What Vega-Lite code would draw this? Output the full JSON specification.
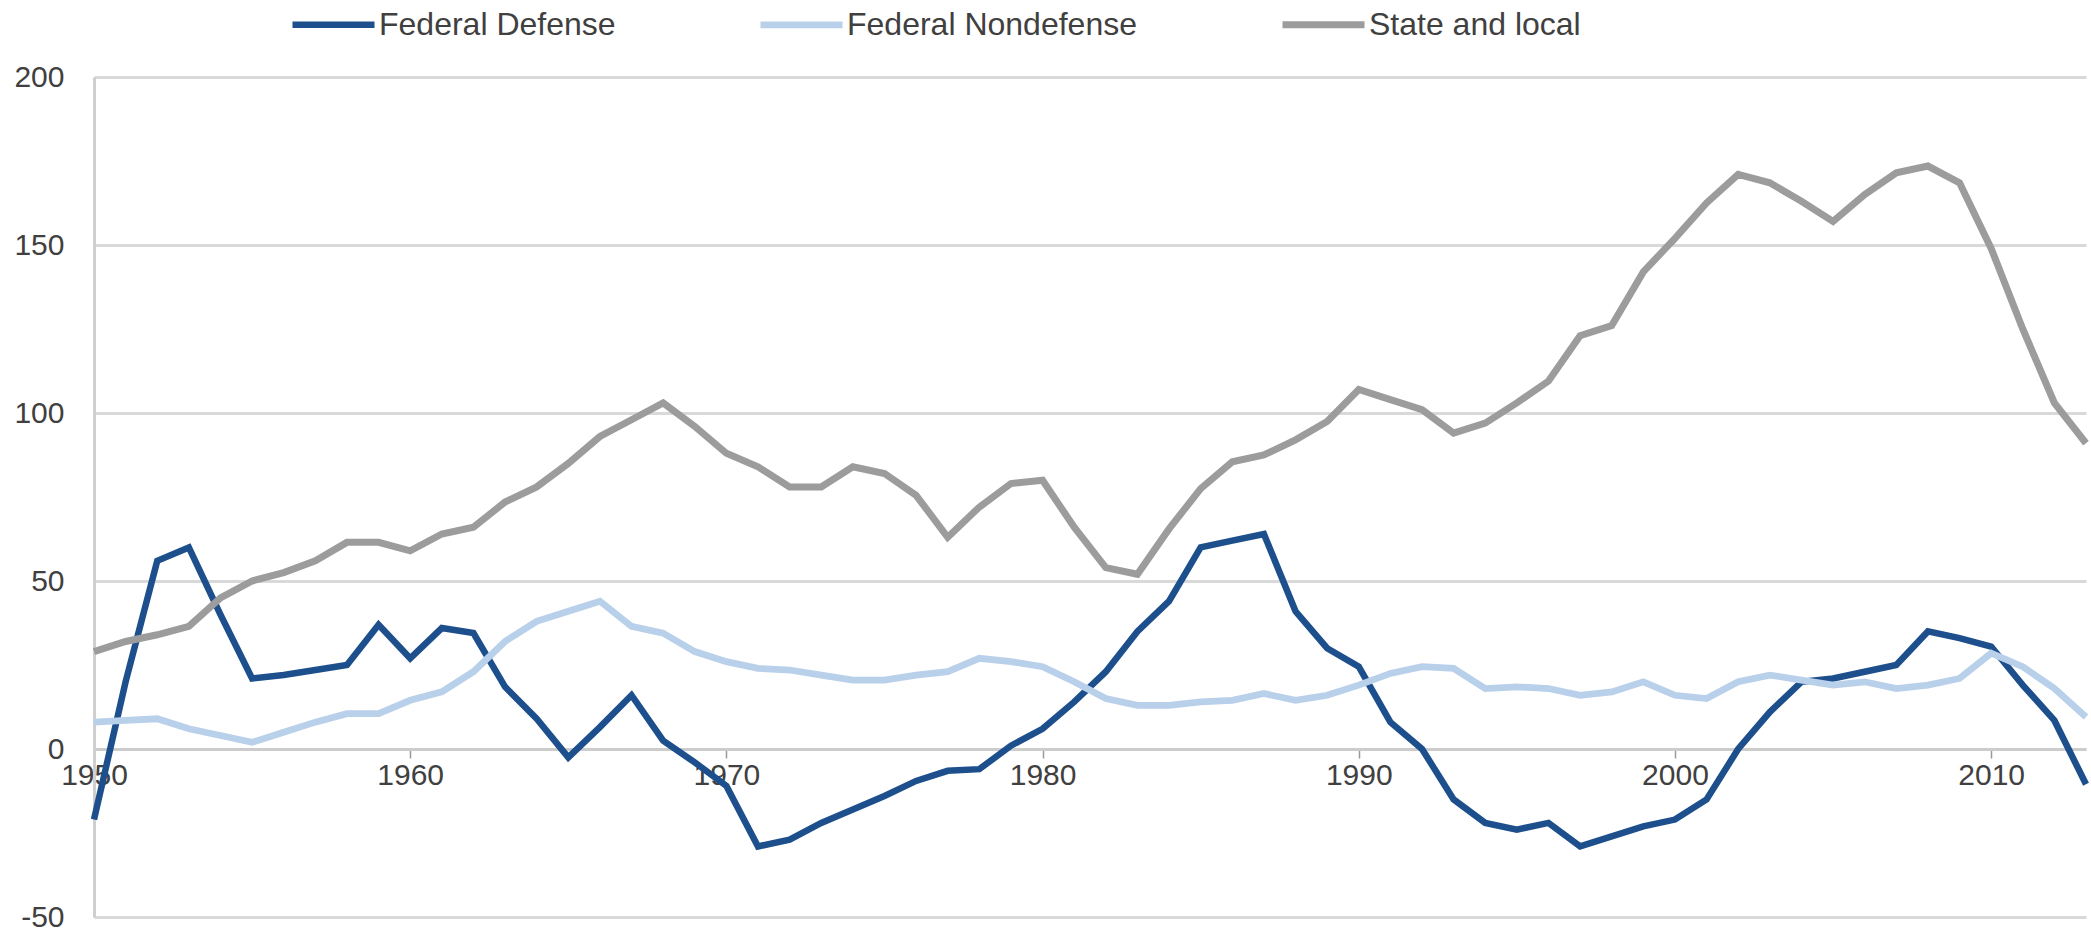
{
  "$schema": "https://vega.github.io/schema/vega-lite/v6.json",
  "autosize": "none",
  "width": 1992,
  "height": 840,
  "padding": {"left": 94, "top": 77, "right": 5, "bottom": 20},
  "background": "white",
  "config": {
    "view": {"stroke": null},
    "font": "Liberation Sans"
  },
  "data": {
    "values": [
      {"year":1950,"Federal Defense":-21,"Federal Nondefense":8,"State and local":29},
      {"year":1951,"Federal Defense":20,"Federal Nondefense":8.5,"State and local":32},
      {"year":1952,"Federal Defense":56,"Federal Nondefense":9,"State and local":34},
      {"year":1953,"Federal Defense":60,"Federal Nondefense":6,"State and local":36.5},
      {"year":1954,"Federal Defense":40,"Federal Nondefense":4,"State and local":45},
      {"year":1955,"Federal Defense":21,"Federal Nondefense":2,"State and local":50},
      {"year":1956,"Federal Defense":22,"Federal Nondefense":5,"State and local":52.5},
      {"year":1957,"Federal Defense":23.5,"Federal Nondefense":8,"State and local":56},
      {"year":1958,"Federal Defense":25,"Federal Nondefense":10.5,"State and local":61.5},
      {"year":1959,"Federal Defense":37,"Federal Nondefense":10.5,"State and local":61.5},
      {"year":1960,"Federal Defense":27,"Federal Nondefense":14.5,"State and local":59},
      {"year":1961,"Federal Defense":36,"Federal Nondefense":17,"State and local":64},
      {"year":1962,"Federal Defense":34.5,"Federal Nondefense":23,"State and local":66},
      {"year":1963,"Federal Defense":18.5,"Federal Nondefense":32,"State and local":73.5},
      {"year":1964,"Federal Defense":9,"Federal Nondefense":38,"State and local":78},
      {"year":1965,"Federal Defense":-2.5,"Federal Nondefense":41,"State and local":85},
      {"year":1966,"Federal Defense":6.5,"Federal Nondefense":44,"State and local":93},
      {"year":1967,"Federal Defense":16,"Federal Nondefense":36.5,"State and local":98},
      {"year":1968,"Federal Defense":2.5,"Federal Nondefense":34.5,"State and local":103},
      {"year":1969,"Federal Defense":-4,"Federal Nondefense":29,"State and local":96},
      {"year":1970,"Federal Defense":-11,"Federal Nondefense":26,"State and local":88},
      {"year":1971,"Federal Defense":-29,"Federal Nondefense":24,"State and local":84},
      {"year":1972,"Federal Defense":-27,"Federal Nondefense":23.5,"State and local":78},
      {"year":1973,"Federal Defense":-22,"Federal Nondefense":22,"State and local":78},
      {"year":1974,"Federal Defense":-18,"Federal Nondefense":20.5,"State and local":84},
      {"year":1975,"Federal Defense":-14,"Federal Nondefense":20.5,"State and local":82},
      {"year":1976,"Federal Defense":-9.5,"Federal Nondefense":22,"State and local":75.5},
      {"year":1977,"Federal Defense":-6.5,"Federal Nondefense":23,"State and local":63},
      {"year":1978,"Federal Defense":-6,"Federal Nondefense":27,"State and local":72},
      {"year":1979,"Federal Defense":1,"Federal Nondefense":26,"State and local":79},
      {"year":1980,"Federal Defense":6,"Federal Nondefense":24.5,"State and local":80},
      {"year":1981,"Federal Defense":14,"Federal Nondefense":20,"State and local":66},
      {"year":1982,"Federal Defense":23,"Federal Nondefense":15,"State and local":54},
      {"year":1983,"Federal Defense":35,"Federal Nondefense":13,"State and local":52},
      {"year":1984,"Federal Defense":44,"Federal Nondefense":13,"State and local":65.5},
      {"year":1985,"Federal Defense":60,"Federal Nondefense":14,"State and local":77.5},
      {"year":1986,"Federal Defense":62,"Federal Nondefense":14.5,"State and local":85.5},
      {"year":1987,"Federal Defense":64,"Federal Nondefense":16.5,"State and local":87.5},
      {"year":1988,"Federal Defense":41,"Federal Nondefense":14.5,"State and local":92},
      {"year":1989,"Federal Defense":30,"Federal Nondefense":16,"State and local":97.5},
      {"year":1990,"Federal Defense":24.5,"Federal Nondefense":19,"State and local":107},
      {"year":1991,"Federal Defense":8,"Federal Nondefense":22.5,"State and local":104},
      {"year":1992,"Federal Defense":0,"Federal Nondefense":24.5,"State and local":101},
      {"year":1993,"Federal Defense":-15,"Federal Nondefense":24,"State and local":94},
      {"year":1994,"Federal Defense":-22,"Federal Nondefense":18,"State and local":97},
      {"year":1995,"Federal Defense":-24,"Federal Nondefense":18.5,"State and local":103},
      {"year":1996,"Federal Defense":-22,"Federal Nondefense":18,"State and local":109.5},
      {"year":1997,"Federal Defense":-29,"Federal Nondefense":16,"State and local":123},
      {"year":1998,"Federal Defense":-26,"Federal Nondefense":17,"State and local":126},
      {"year":1999,"Federal Defense":-23,"Federal Nondefense":20,"State and local":142},
      {"year":2000,"Federal Defense":-21,"Federal Nondefense":16,"State and local":152},
      {"year":2001,"Federal Defense":-15,"Federal Nondefense":15,"State and local":162.5},
      {"year":2002,"Federal Defense":0,"Federal Nondefense":20,"State and local":171},
      {"year":2003,"Federal Defense":11,"Federal Nondefense":22,"State and local":168.5},
      {"year":2004,"Federal Defense":20,"Federal Nondefense":20.5,"State and local":163},
      {"year":2005,"Federal Defense":21,"Federal Nondefense":19,"State and local":157},
      {"year":2006,"Federal Defense":23,"Federal Nondefense":20,"State and local":165},
      {"year":2007,"Federal Defense":25,"Federal Nondefense":18,"State and local":171.5},
      {"year":2008,"Federal Defense":35,"Federal Nondefense":19,"State and local":173.5},
      {"year":2009,"Federal Defense":33,"Federal Nondefense":21,"State and local":168.5},
      {"year":2010,"Federal Defense":30.5,"Federal Nondefense":28.5,"State and local":149},
      {"year":2011,"Federal Defense":19,"Federal Nondefense":24.5,"State and local":125},
      {"year":2012,"Federal Defense":8.5,"Federal Nondefense":18,"State and local":103},
      {"year":2013,"Federal Defense":-10.5,"Federal Nondefense":9.5,"State and local":91}
    ]
  },
  "transform": [
    {"fold": ["Federal Defense", "Federal Nondefense", "State and local"], "as": ["series", "value"]}
  ],
  "mark": {"type": "line", "strokeJoin": "miter", "strokeCap": "butt"},
  "encoding": {
    "x": {
      "field": "year",
      "type": "quantitative",
      "scale": {"domain": [1950, 2013], "nice": false, "zero": false},
      "axis": {
        "title": null,
        "values": [1950, 1960, 1970, 1980, 1990, 2000, 2010],
        "format": "d",
        "grid": false,
        "offset": -168,
        "domain": true,
        "domainColor": "#cccccc",
        "domainWidth": 3,
        "ticks": true,
        "tickColor": "#999999",
        "tickWidth": 1.5,
        "tickSize": 9,
        "labelFont": "Liberation Sans",
        "labelFontSize": 30,
        "labelColor": "#404040",
        "labelPadding": 2,
        "labelFlush": false
      }
    },
    "y": {
      "field": "value",
      "type": "quantitative",
      "scale": {"domain": [-50, 200], "nice": false, "zero": false},
      "axis": {
        "title": null,
        "values": [-50, 0, 50, 100, 150, 200],
        "labelExpr": "'' + datum.value",
        "grid": true,
        "gridColor": "#d9d9d9",
        "gridWidth": 3,
        "domain": true,
        "domainColor": "#cfcfcf",
        "domainWidth": 3,
        "ticks": false,
        "labelFont": "Liberation Sans",
        "labelFontSize": 30,
        "labelColor": "#404040",
        "labelPadding": 30,
        "labelFlush": false
      }
    },
    "strokeWidth": {
      "field": "series",
      "type": "nominal",
      "scale": {
        "domain": ["Federal Defense", "Federal Nondefense", "State and local"],
        "range": [6.5, 7, 6]
      },
      "legend": null
    },
    "color": {
      "field": "series",
      "type": "nominal",
      "sort": ["Federal Defense", "Federal Nondefense", "State and local"],
      "scale": {
        "domain": ["Federal Defense", "Federal Nondefense", "State and local"],
        "range": ["#1c4f8c", "#b9d0ea", "#9c9c9c"]
      },
      "legend": {
        "title": null,
        "orient": "none",
        "direction": "horizontal",
        "legendX": 195,
        "legendY": -97,
        "symbolType": "stroke",
        "symbolSize": 6724,
        "symbolStrokeWidth": 7,
        "labelFont": "Liberation Sans",
        "labelFontSize": 32,
        "labelColor": "#404040",
        "labelOffset": 1,
        "labelLimit": 0,
        "columnPadding": 131,
        "padding": 0
      }
    }
  }
}
